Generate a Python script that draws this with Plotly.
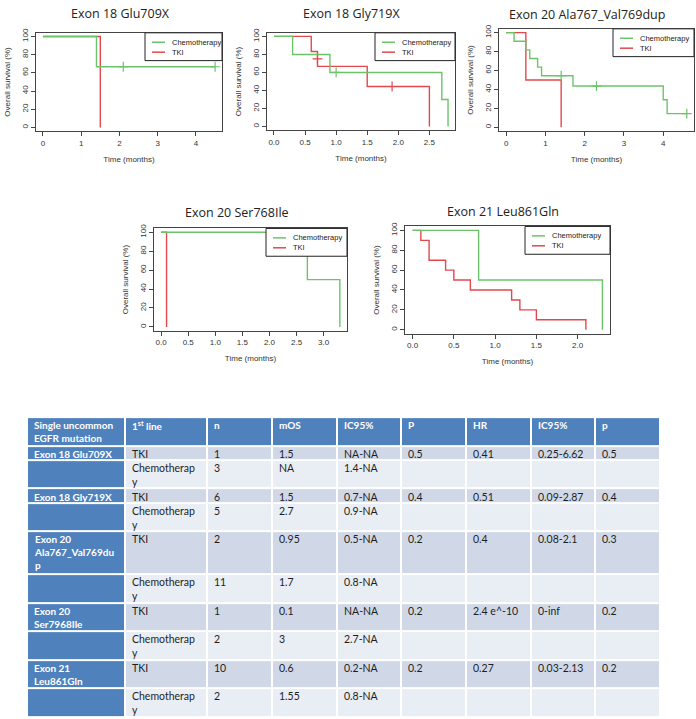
import re
import plotly.graph_objects as go

W, H = 696, 719

# ---- Kaplan-Meier curves: time (months), overall survival (%) ----
glu_chemo_t = [0, 1.4, 4.5]
glu_chemo_s = [100, 66.7, 66.7]
glu_chemo_cens_t = [2.1, 4.5]
glu_chemo_cens_s = [66.7, 66.7]
glu_tki_t = [0, 1.5]
glu_tki_s = [100, 0]

gly_chemo_t = [0, 0.3, 0.9, 2.7, 2.8]
gly_chemo_s = [100, 80, 60, 30, 0]
gly_chemo_cens_t = [1.0]
gly_chemo_cens_s = [60]
gly_tki_t = [0, 0.6, 0.7, 1.5, 2.5]
gly_tki_s = [100, 83.3, 66.7, 44.4, 0]
gly_tki_cens_t = [0.7, 1.9]
gly_tki_cens_s = [75, 44.4]

ala_chemo_t = [0, 0.2, 0.5, 0.6, 0.8, 0.9, 1.7, 4.0, 4.1, 4.6]
ala_chemo_s = [100, 90.9, 81.8, 72.7, 63.6, 54.5, 43.6, 29.1, 14.5, 14.5]
ala_chemo_cens_t = [1.4, 2.3, 4.6]
ala_chemo_cens_s = [54.5, 43.6, 14.5]
ala_tki_t = [0, 0.5, 1.4]
ala_tki_s = [100, 50, 0]

ser_chemo_t = [0, 2.7, 3.3]
ser_chemo_s = [100, 50, 0]
ser_tki_t = [0, 0.1]
ser_tki_s = [100, 0]

leu_chemo_t = [0, 0.8, 2.3]
leu_chemo_s = [100, 50, 0]
leu_tki_t = [0, 0.1, 0.2, 0.4, 0.5, 0.7, 1.2, 1.3, 1.5, 2.1]
leu_tki_s = [100, 90, 70, 60, 50, 40, 30, 20, 10, 0]

# ---- table ----
table_header = ["Single uncommon EGFR mutation", "1<sup>st</sup> line", "n", "mOS",
                "IC95%", "P", "HR", "IC95%", "p"]
mutation = ["Exon 18 Glu709X", "", "Exon 18 Gly719X", "", "Exon 20 Ala767_Val769dup", "",
            "Exon 20 Ser7968Ile", "", "Exon 21 Leu861Gln", ""]
first_line = ["TKI", "Chemotherapy"] * 5
n_pat = ["1", "3", "6", "5", "2", "11", "1", "2", "10", "2"]
mos = ["1.5", "NA", "1.5", "2.7", "0.95", "1.7", "0.1", "3", "0.6", "1.55"]
ic95_mos = ["NA-NA", "1.4-NA", "0.7-NA", "0.9-NA", "0.5-NA", "0.8-NA", "NA-NA", "2.7-NA",
            "0.2-NA", "0.8-NA"]
p_logrank = ["0.5", "", "0.4", "", "0.2", "", "0.2", "", "0.2", ""]
hr = ["0.41", "", "0.51", "", "0.4", "", "2.4 e^-10", "", "0.27", ""]
ic95_hr = ["0.25-6.62", "", "0.09-2.87", "", "0.08-2.1", "", "0-inf", "", "0.03-2.13", ""]
p_cox = ["0.5", "", "0.4", "", "0.3", "", "0.2", "", "0.2", ""]

GREEN = "#6cc46a"
RED = "#e2484d"
BLUE = "#4f81bd"
TKI_FILL = "#d0d8e8"
CHEMO_FILL = "#e9edf4"


def px_x(v):
    return v / W


def px_y(v):
    return 1 - v / H


panels = [
    dict(title="Exon 18 Glu709X", tx=120, ty=9, box=(36, 28, 222, 127), xr=[-0.18, 4.68],
         dtick=1, fmt="d", leg=77,
         chemo=(glu_chemo_t, glu_chemo_s), tki=(glu_tki_t, glu_tki_s),
         chemo_c=(glu_chemo_cens_t, glu_chemo_cens_s), tki_c=None),
    dict(title="Exon 18 Gly719X", tx=351, ty=9, box=(267, 28, 455, 126), xr=[-0.112, 2.912],
         dtick=0.5, fmt=".1f", leg=80,
         chemo=(gly_chemo_t, gly_chemo_s), tki=(gly_tki_t, gly_tki_s),
         chemo_c=(gly_chemo_cens_t, gly_chemo_cens_s), tki_c=(gly_tki_cens_t, gly_tki_cens_s)),
    dict(title="Exon 20 Ala767_Val769dup", tx=587, ty=10, box=(499, 24, 694, 127),
         xr=[-0.184, 4.784], dtick=1, fmt="d", leg=81,
         chemo=(ala_chemo_t, ala_chemo_s), tki=(ala_tki_t, ala_tki_s),
         chemo_c=(ala_chemo_cens_t, ala_chemo_cens_s), tki_c=None),
    dict(title="Exon 20 Ser768Ile", tx=237, ty=209, box=(154, 225, 347, 328),
         xr=[-0.132, 3.432], dtick=0.5, fmt=".1f", leg=81,
         chemo=(ser_chemo_t, ser_chemo_s), tki=(ser_tki_t, ser_tki_s),
         chemo_c=None, tki_c=None),
    dict(title="Exon 21 Leu861Gln", tx=503, ty=208, box=(405, 223, 610, 331),
         xr=[-0.092, 2.392], dtick=0.5, fmt=".1f", leg=85,
         chemo=(leu_chemo_t, leu_chemo_s), tki=(leu_tki_t, leu_tki_s),
         chemo_c=None, tki_c=None),
]

fig = go.Figure()
shapes = []
annotations = []
axis_font = dict(family="Liberation Sans, Arial", size=8, color="#333")
legend_font = dict(family="Liberation Sans, Arial", size=7.5, color="#222")

for i, p in enumerate(panels):
    k = "" if i == 0 else str(i + 1)
    xa, ya = "x" + k, "y" + k
    # TKI drawn first so the chemotherapy line sits on top where they overlap
    for name, curve, cens, color in [("TKI", p["tki"], p["tki_c"], RED),
                                     ("Chemotherapy", p["chemo"], p["chemo_c"], GREEN)]:
        fig.add_trace(go.Scatter(x=curve[0], y=curve[1], mode="lines", name=name,
                                 line=dict(color=color, width=1.4, shape="hv"),
                                 showlegend=False, xaxis=xa, yaxis=ya, hoverinfo="skip"))
        if cens:
            fig.add_trace(go.Scatter(x=cens[0], y=cens[1], mode="markers", name=name,
                                     marker=dict(symbol="cross-thin", size=7,
                                                 line=dict(color=color, width=1.2)),
                                     showlegend=False, xaxis=xa, yaxis=ya, hoverinfo="skip"))
    l, t, r, b = p["box"]
    common = dict(showline=True, mirror=True, linecolor="#444", linewidth=1, ticks="outside",
                  ticklen=4, tickcolor="#444", showgrid=False, zeroline=False,
                  tickfont=axis_font)
    fig.update_layout({
        "xaxis" + k: dict(common, domain=[px_x(l), px_x(r)], range=p["xr"], dtick=p["dtick"],
                          tick0=0, tickformat=p["fmt"], anchor=ya,
                          title=dict(text="Time (months)", font=axis_font, standoff=9)),
        "yaxis" + k: dict(common, domain=[px_y(b), px_y(t)], range=[-4, 104], dtick=20,
                          tick0=0, tickangle=-90, anchor=xa,
                          title=dict(text="Overall survival (%)", font=axis_font, standoff=8)),
    })
    annotations.append(dict(text=p["title"], x=px_x(p["tx"]), y=px_y(p["ty"]), xref="paper",
                            yref="paper", showarrow=False, xanchor="center", yanchor="middle",
                            font=dict(family="Open Sans", size=12.5, color="#222")))
    # legend box in the top-right corner of the panel
    lw = p["leg"]
    shapes.append(dict(type="rect", xref="paper", yref="paper", x0=px_x(r - lw), x1=px_x(r),
                       y0=px_y(t), y1=px_y(t + 28), line=dict(color="#222", width=1),
                       fillcolor="white", layer="above"))
    for j, (name, color) in enumerate([("Chemotherapy", GREEN), ("TKI", RED)]):
        yc = t + 9.5 + 10 * j
        shapes.append(dict(type="line", xref="paper", yref="paper", x0=px_x(r - lw + 7),
                           x1=px_x(r - lw + 20), y0=px_y(yc), y1=px_y(yc),
                           line=dict(color=color, width=1.5), layer="above"))
        annotations.append(dict(text=name, x=px_x(r - lw + 25), y=px_y(yc), xref="paper",
                                yref="paper", showarrow=False, xanchor="left",
                                yanchor="middle", font=legend_font))

# ---- table drawn as a heatmap of cells on a hidden axis ----
columns = [mutation, first_line, n_pat, mos, ic95_mos, p_logrank, hr, ic95_hr, p_cox]
col_w = [98, 82, 65, 65, 64, 65, 65, 64, 65]
col_chars = [15, 11, 10, 10, 10, 10, 10, 10, 10]


def wrap(text, limit):
    if len(re.sub(r"<[^>]+>", "", text)) <= limit:
        return [text]
    lines, cur = [], ""
    for word in text.split(" "):
        cand = (cur + " " + word).strip()
        if len(cand) <= limit:
            cur = cand
        else:
            if cur:
                lines.append(cur)
            while len(word) > limit:
                lines.append(word[:limit])
                word = word[limit:]
            cur = word
    if cur:
        lines.append(cur)
    return lines


rows = [table_header] + [[col[r] for col in columns] for r in range(len(mutation))]
wrapped = [[wrap(v, col_chars[c]) for c, v in enumerate(row)] for row in rows]
row_lines = [max(len(cell) for cell in row) for row in wrapped]

x_edges = [0]
for w_ in col_w:
    x_edges.append(x_edges[-1] + w_)
y_edges = [0]
for nl in row_lines:
    y_edges.append(y_edges[-1] + nl)

z = []
for r, row in enumerate(rows):
    if r == 0:
        z.append([0] * len(row))
    else:
        shade = 1 if row[1] == "TKI" else 2
        z.append([0] + [shade] * (len(row) - 1))

fig.add_trace(go.Heatmap(x=x_edges, y=y_edges, z=z, zmin=0, zmax=2, showscale=False,
                         colorscale=[[0, BLUE], [0.5, TKI_FILL], [1, CHEMO_FILL]],
                         xgap=2, ygap=2, hoverinfo="skip", xaxis="x6", yaxis="y6"))

for r, row in enumerate(wrapped):
    for c, lines in enumerate(row):
        if not lines[0]:
            continue
        white = r == 0 or c == 0
        annotations.append(dict(
            text="<br>".join(lines), x=x_edges[c] + 5, y=y_edges[r], xref="x6", yref="y6",
            showarrow=False, xanchor="left", yanchor="top", align="left", yshift=0,
            font=dict(family="Lato", size=10 if white else 10.5,
                      color="white" if white else "#1e1e1e",
                      weight="bold" if white else "normal")))

fig.update_layout(
    xaxis6=dict(domain=[px_x(27), px_x(660)], range=[0, x_edges[-1]], visible=False,
                anchor="y6"),
    yaxis6=dict(domain=[px_y(717), px_y(415)], range=[y_edges[-1], 0], visible=False,
                anchor="x6"),
    width=W, height=H, margin=dict(l=0, r=0, t=0, b=0),
    paper_bgcolor="white", plot_bgcolor="white",
    shapes=shapes, annotations=annotations, showlegend=False,
)

# the page's default body margin would shift the figure by 8px
fig.write_html("out.html", config={"displayModeBar": False},
               post_script="document.body.style.margin = '0px';")
